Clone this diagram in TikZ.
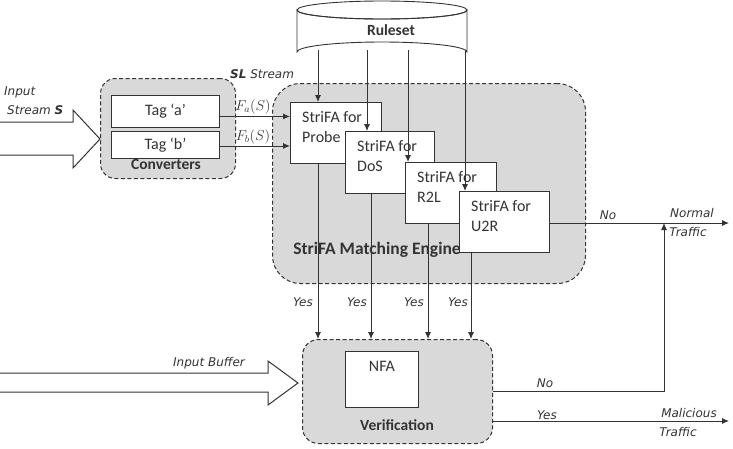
\documentclass[tikz,border=0pt]{standalone}
\usepackage{fontspec}
\setmainfont{Carlito}
\newfontfamily\labelfont{DejaVu Sans}
\usetikzlibrary{arrows.meta}
\definecolor{grpfill}{HTML}{D9D9D9}
\definecolor{ink}{HTML}{333333}
\tikzset{
  grp/.style={draw=ink, line width=1pt, dash pattern=on 4pt off 2.5pt, fill=grpfill,
    rounded corners=#1, anchor=north west, inner sep=0pt},
  box/.style={draw=ink, line width=0.9pt, fill=white, inner sep=0pt, anchor=north west},
  boxtext/.style={font=\fontsize{16}{20}\selectfont, align=left, anchor=north west, inner sep=0pt, text=ink},
  tagtext/.style={font=\fontsize{16}{18}\selectfont, text=ink, inner sep=0pt},
  grptitle/.style={font=\bfseries\fontsize{15.5}{18}\selectfont, text=ink, inner sep=0pt},
  lbl/.style={font=\labelfont\itshape\fontsize{12}{14}\selectfont, text=ink, inner sep=0pt},
  arr/.style={draw=ink, line width=0.9pt, -{Latex[length=7pt,width=6pt]}},
  ln/.style={draw=ink, line width=0.9pt},
  bigarrow/.style={draw=ink, line width=1pt, fill=white},
}
\begin{document}
\begin{tikzpicture}[x=1pt,y=-1pt]
\useasboundingbox (0,0) rectangle (733,448);

% group backgrounds
\node[grp=15pt, minimum width=135pt, minimum height=100pt] (convgrp) at (100,78) {};
\node[grp=28pt, minimum width=313pt, minimum height=200pt] (enginegrp) at (272,83) {};
\node[grp=16pt, minimum width=190pt, minimum height=104pt] (verifgrp) at (302,339) {};

% big input arrows
\path[bigarrow] (0,122) -- (73,122) -- (73,110) -- (100,139) -- (73,168) -- (73,155) -- (0,155);
\path[bigarrow] (0,373) -- (268,373) -- (268,361) -- (298,383) -- (268,405) -- (268,392) -- (0,392);

% ruleset connector start points
\coordinate (rs1) at (318,50);
\coordinate (rs2) at (367,50);
\coordinate (rs3) at (408,50);
\coordinate (rs4) at (465,50);

% converter boxes
\node[box, minimum width=108pt, minimum height=32pt] (taga) at (111,95) {};
\node[box, minimum width=108pt, minimum height=27pt] (tagb) at (111,131) {};
\node[tagtext] at (taga.center) {Tag `a'};
\node[tagtext] at (tagb.center) {Tag `b'};

% rule lines run behind the boxes
\draw[ln] (rs2) -- (367,102);
\draw[ln] (rs3) -- (408,131);
\draw[ln] (rs4) -- (465,162);

\node[box, minimum width=91pt, minimum height=61pt] (probe) at (290,102) {};
\draw[arr] (rs2|-probe.north) -- (367,131);
\node[box, minimum width=89pt, minimum height=62pt] (dos) at (345,131) {};
\draw[arr] (rs3|-dos.north) -- (408,162);
\node[box, minimum width=91pt, minimum height=61pt] (r2l) at (405,162) {};
\draw[arr] (rs4|-r2l.north) -- (465,191);
\node[box, minimum width=90pt, minimum height=61pt] (u2r) at (459,191) {};
\draw[arr] (rs1) -- (rs1|-probe.north);

\node[boxtext] at ([xshift=12pt,yshift=-9.5pt]probe.north west) {StriFA for\\Probe};
\node[boxtext] at ([xshift=12pt,yshift=-9.5pt]dos.north west) {StriFA for\\DoS};
\node[boxtext] at ([xshift=12pt,yshift=-9.5pt]r2l.north west) {StriFA for\\R2L};
\node[boxtext] at ([xshift=12pt,yshift=-9.5pt]u2r.north west) {StriFA for\\U2R};

\node[box, minimum width=73pt, minimum height=56pt] (nfa) at (345,351) {};
\node[tagtext, anchor=north] at ([yshift=-10pt]nfa.north) {NFA};

% ruleset cylinder
\path[draw=ink, line width=0.9pt, fill=white] (297,10) -- (297,52) arc[start angle=180, end angle=360, x radius=85, y radius=10] -- (467,10) arc[start angle=0, end angle=180, x radius=85, y radius=9] -- cycle;
\draw[ln] (382,10) ellipse[x radius=85, y radius=9];
\node[grptitle] (ruleset) at (391,30) {Ruleset};

% group titles
\node[grptitle] (conv) at (166,164) {Converters};
\node[grptitle, font=\bfseries\fontsize{17.5}{20}\selectfont] (engine) at (377,250) {StriFA Matching Engine};
\node[grptitle] (verif) at (397,425) {Verification};

% converter outputs into the engine
\draw[arr] ([yshift=-5pt]taga.east) -- ([yshift=-5pt]taga.east-|probe.west);
\draw[arr] ([yshift=-1pt]tagb.east) -- ([yshift=-1pt]tagb.east-|probe.west);
\node[font=\fontsize{14}{16}\selectfont, text=ink, inner sep=0pt] at (253,107) {$F_a(S)$};
\node[font=\fontsize{14}{16}\selectfont, text=ink, inner sep=0pt] at (253,137) {$F_b(S)$};

% engine matches go to verification
\draw[arr] (probe.south-|318,0) -- (verifgrp.north-|318,0);
\draw[arr] (dos.south-|371,0) -- (verifgrp.north-|371,0);
\draw[arr] (r2l.south-|428,0) -- (verifgrp.north-|428,0);
\draw[arr] (u2r.south-|471,0) -- (verifgrp.north-|471,0);
\node[lbl] at (303,302) {Yes};
\node[lbl] at (357,302) {Yes};
\node[lbl] at (414,302) {Yes};
\node[lbl] at (458,302) {Yes};

% outputs
\coordinate (normal) at (729,223);
\coordinate (malicious) at (729,421);
\draw[arr] (u2r.east|-normal) -- (normal);
\draw[arr] (verifgrp.east|-0,391) -- (664,391) -- (664,223);
\draw[arr] (verifgrp.east|-0,421) -- (malicious);

% labels
\node[lbl, anchor=west] at (4,92) {Input};
\node[lbl, anchor=west] at (7,110) {Stream \textbf{S}};
\node[lbl] at (209,363) {Input Buffer};
\node[lbl, anchor=west] at (230,74) {\textbf{\textit{SL}} Stream};
\node[lbl] at (608,215) {No};
\node[lbl] at (692,213) {Normal};
\node[lbl] at (688,232) {Traffic};
\node[lbl] at (545,383) {No};
\node[lbl] at (547,415) {Yes};
\node[lbl] at (689,413) {Malicious};
\node[lbl] at (678,432) {Traffic};
\end{tikzpicture}
\end{document}
